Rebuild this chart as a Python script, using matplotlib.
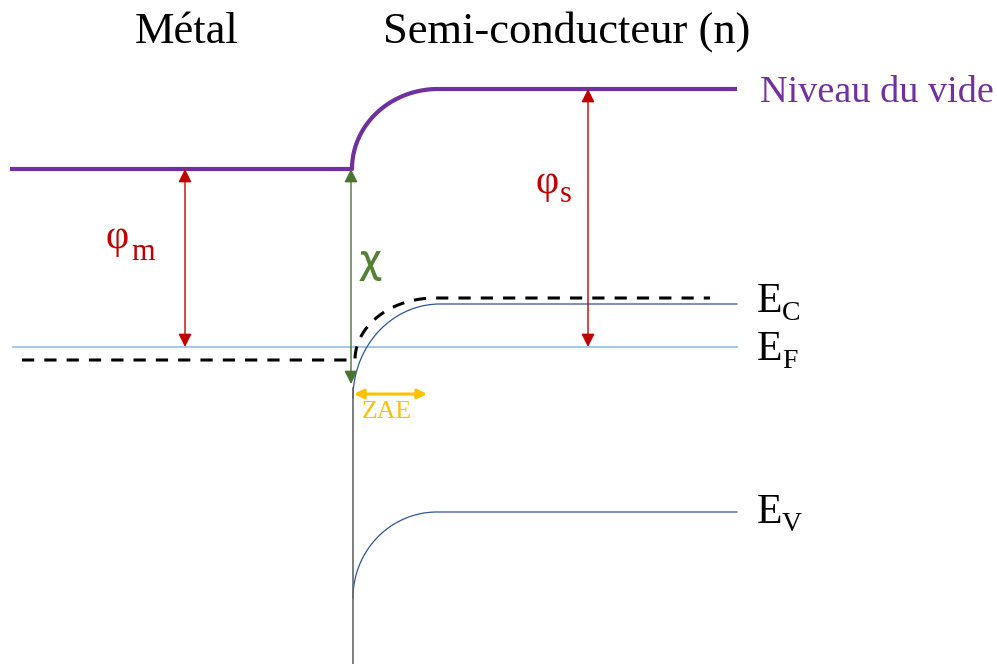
import numpy as np
import matplotlib.pyplot as plt
from matplotlib import rcParams

rcParams['font.family'] = ['Liberation Serif', 'DejaVu Serif']

# niveaux d'énergie (coordonnées du schéma, axe vertical vers le bas)
x_left, x_interface, x_bend_end, x_right = 10, 352, 440, 737
vide_metal, vide_sc = 169, 89
niveau_EF = 347
EC_interface, EC_flat = 398, 304
EV_interface, EV_flat = 598, 512
tirets_metal, tirets_sc = 360, 298
x_tirets = [22, 710]
x_phi_m, x_phi_s, x_chi = 185, 588, 351
zae = [354, 427]
y_zae = 394

# étiquettes : (texte, indice, x, ligne de base, x indice, ligne de base indice)
etiquettes_bandes = [('E', 'C', 757, 312, 782, 320),
                     ('E', 'F', 757, 360, 782, 368),
                     ('E', 'V', 757, 523, 782, 531)]
etiquettes_phi = [('φ', 'm', 105, 248, 131, 260),
                  ('φ', 's', 535, 193, 560, 202)]

violet = '#7030A0'
rouge = '#C00000'
vert = '#548235'
orange = '#FFC000'
bleu_fonce = '#2F5597'
bleu_clair = '#9DC3E6'


def courbure(x0, y_bas, x1, y_haut, n=100):
    # quart d'ellipse : vertical à l'interface, horizontal ensuite
    t = np.linspace(0, np.pi / 2, n)
    a = x1 - x0
    b = y_bas - y_haut
    return x1 - a * np.cos(t), y_bas - b * np.sin(t)


fig = plt.figure(figsize=(9.97, 6.64), dpi=100)
ax = fig.add_axes([0, 0, 1, 1])
ax.set_xlim(0, 997)
ax.set_ylim(664, 0)
ax.axis('off')

# niveau de Fermi
ax.plot([13, x_right], [niveau_EF, niveau_EF], color=bleu_clair, lw=1.3)

# niveau du vide
cx, cy = courbure(x_interface, vide_metal, x_bend_end - 2, vide_sc)
ax.plot(np.r_[x_left, cx, x_right], np.r_[vide_metal, cy, vide_sc],
        color=violet, lw=3, solid_capstyle='butt')

# bande de conduction et de valence
cx, cy = courbure(x_interface + 1, EC_interface, x_bend_end, EC_flat)
ax.plot(np.r_[cx, x_right], np.r_[cy, EC_flat], color=bleu_fonce, lw=0.9)
cx, cy = courbure(x_interface + 1, EV_interface, x_bend_end - 3, EV_flat)
ax.plot(np.r_[cx, x_right], np.r_[cy, EV_flat], color=bleu_fonce, lw=0.9)
ax.plot([x_interface + 1, x_interface + 1], [EC_interface - 10, 664], color='#666666', lw=1.2)

# ligne en tirets
cx, cy = courbure(x_interface + 3, tirets_metal, x_bend_end - 5, tirets_sc)
ax.plot(np.r_[x_tirets[0], cx, x_tirets[1]], np.r_[tirets_metal, cy, tirets_sc],
        color='black', lw=2.2, dashes=(4, 3.3))

# flèches
def fleche(x0, y0, x1, y1, couleur, lw=1.0, ms=20):
    ax.annotate('', xy=(x1, y1), xytext=(x0, y0),
                arrowprops=dict(arrowstyle='<|-|>', color=couleur, lw=lw,
                                mutation_scale=ms, shrinkA=0, shrinkB=0))

fleche(x_phi_m, niveau_EF, x_phi_m, vide_metal, rouge)
fleche(x_phi_s, niveau_EF, x_phi_s, vide_sc, rouge)
fleche(x_chi, EC_interface - 14, x_chi, vide_metal, '#4A7431')
fleche(zae[0], y_zae, zae[1], y_zae, orange, lw=2.2, ms=14)

# textes
ax.text(187, 43, 'Métal', fontsize=32, ha='center', va='baseline')
ax.text(567, 43, 'Semi-conducteur (n)', fontsize=32, ha='center', va='baseline')
ax.text(760, 102, 'Niveau du vide', fontsize=27.5, color=violet, va='baseline')
for lettre, indice, x, y, xi, yi in etiquettes_bandes:
    ax.text(x, y, lettre, fontsize=30, va='baseline')
    ax.text(xi, yi, indice, fontsize=20, va='baseline')
for lettre, indice, x, y, xi, yi in etiquettes_phi:
    ax.text(x, y, lettre, fontsize=29, color=rouge, va='baseline')
    ax.text(xi, yi, indice, fontsize=22, color=rouge, va='baseline')
ax.text(360, 262, 'χ', fontsize=27, color=vert, va='center',
        family=['Open Sans', 'DejaVu Sans'], fontweight='semibold')
ax.text(362, 418, 'ZAE', fontsize=18.5, color=orange, va='baseline')

fig.savefig('out.png', dpi=100)
